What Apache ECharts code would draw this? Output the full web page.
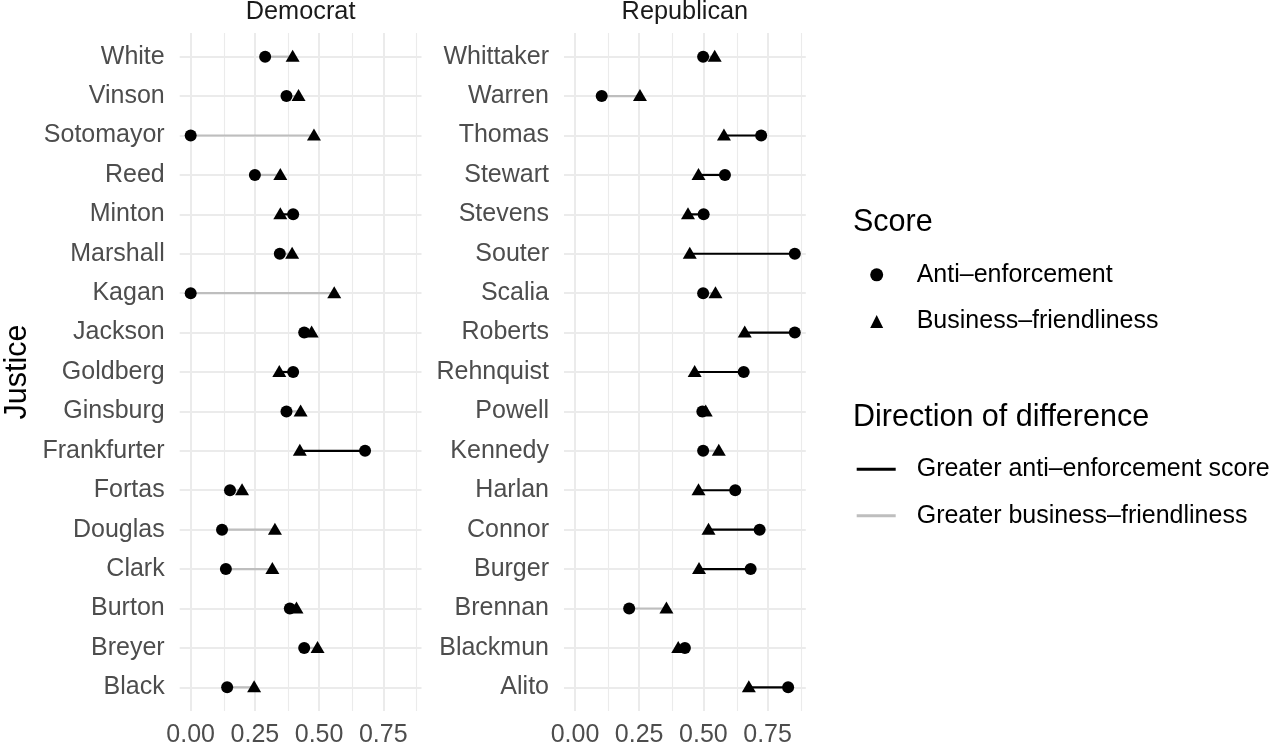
<!DOCTYPE html>
<html>
<head>
<meta charset="utf-8">
<script src="https://cdn.jsdelivr.net/npm/echarts@6/dist/echarts.min.js"></script>
<style>
html,body{margin:0;padding:0;background:#fff;}
#chart{width:1273px;height:751px;}
</style>
</head>
<body>
<div id="chart"></div>
<script>
// ---- data (rows listed top to bottom) ----
const demNames = ['White','Vinson','Sotomayor','Reed','Minton','Marshall','Kagan','Jackson','Goldberg','Ginsburg','Frankfurter','Fortas','Douglas','Clark','Burton','Breyer','Black'];
const demAnti  = [0.290,0.373,0.000,0.250,0.399,0.347,0.000,0.442,0.399,0.373,0.679,0.153,0.122,0.137,0.386,0.442,0.142];
const demBiz   = [0.397,0.420,0.480,0.349,0.349,0.395,0.559,0.471,0.345,0.428,0.425,0.200,0.328,0.318,0.412,0.494,0.247];

const repNames = ['Whittaker','Warren','Thomas','Stewart','Stevens','Souter','Scalia','Roberts','Rehnquist','Powell','Kennedy','Harlan','Connor','Burger','Brennan','Blackmun','Alito'];
const repAnti  = [0.499,0.104,0.725,0.584,0.501,0.856,0.499,0.856,0.657,0.496,0.499,0.624,0.719,0.684,0.211,0.428,0.830];
const repBiz   = [0.544,0.253,0.580,0.481,0.440,0.447,0.547,0.661,0.466,0.509,0.560,0.481,0.520,0.483,0.356,0.402,0.677];

const panelNames = ['Democrat','Republican'];
const xMajor = [0, 0.25, 0.5, 0.75];
const xMinor = [0.125, 0.375, 0.625, 0.875];
const scoreNames = ['Anti–enforcement','Business–friendliness'];
const diffNames = ['Greater anti–enforcement score','Greater business–friendliness'];

// ---- styling constants ----
const FONT = '"Liberation Sans", Arial, Helvetica, sans-serif';
const SMALL = 25, BIG = 30.5, STRIP = 25.3;
const GRID_C = '#EBEBEB';
const XMIN = -0.0428, XMAX = 0.8988;
const YMIN = -0.6, YMAX = 16.6;

const panels = [
  {names: demNames, anti: demAnti, biz: demBiz, left: 179.7},
  {names: repNames, anti: repAnti, biz: repBiz, left: 564}
];
const GRID_TOP = 33.05, GRID_H = 677.9, GRID_W = 241.8;

const grids = [], xAxes = [], yAxes = [], series = [];
panels.forEach((p, k) => {
  const n = p.names.length;
  const yIdx = p.names.map((_, i) => n - 1 - i);
  grids.push({left: p.left, top: GRID_TOP, width: GRID_W, height: GRID_H, containLabel: false});
  xAxes.push({
    type: 'value', gridIndex: k, min: XMIN, max: XMAX,
    axisLine: {show: false}, axisTick: {show: false, customValues: xMajor},
    splitLine: {show: false},
    axisLabel: {customValues: xMajor, formatter: v => v.toFixed(2), color: '#4D4D4D',
                fontFamily: FONT, fontSize: SMALL, margin: 12}
  });
  yAxes.push({
    type: 'value', gridIndex: k, min: YMIN, max: YMAX,
    axisLine: {show: false}, axisTick: {show: false, customValues: yIdx},
    splitLine: {show: false},
    axisLabel: {customValues: yIdx, formatter: v => p.names[n - 1 - Math.round(v)] || '',
                color: '#4D4D4D', fontFamily: FONT, fontSize: SMALL, margin: 15, padding: [3, 0, 0, 0]},
    name: k === 0 ? 'Justice' : '', nameLocation: 'middle', nameRotate: 90, nameGap: 147,
    nameTextStyle: {color: '#000', fontFamily: FONT, fontSize: BIG}
  });
  // gridlines
  const ml = [];
  xMajor.forEach(v => ml.push({xAxis: v, lineStyle: {color: GRID_C, width: 2, type: 'solid'}}));
  xMinor.forEach(v => ml.push({xAxis: v, lineStyle: {color: GRID_C, width: 1.1, type: 'solid'}}));
  yIdx.forEach(v => ml.push({yAxis: v, lineStyle: {color: GRID_C, width: 2, type: 'solid'}}));
  series.push({
    type: 'line', xAxisIndex: k, yAxisIndex: k, data: [], silent: true,
    markLine: {silent: true, symbol: ['none', 'none'], label: {show: false}, z: 0,
               animation: false, emphasis: {disabled: true}, data: ml}
  });
  // segments
  const antiGreater = [], bizGreater = [];
  p.names.forEach((_, i) => {
    const rec = [p.anti[i], p.biz[i], yIdx[i]];
    if (p.anti[i] > p.biz[i]) antiGreater.push(rec); else bizGreater.push(rec);
  });
  const seg = (name, data, color) => ({
    type: 'custom', name, xAxisIndex: k, yAxisIndex: k, data, z: 2, silent: true,
    itemStyle: {color}, encode: {x: [0, 1], y: 2},
    renderItem: (params, api) => {
      const a = api.coord([api.value(0), api.value(2)]);
      const b = api.coord([api.value(1), api.value(2)]);
      return {type: 'line', shape: {x1: a[0], y1: a[1], x2: b[0], y2: b[1]},
              style: {stroke: color, lineWidth: 2.2}};
    }
  });
  series.push(seg(diffNames[0], antiGreater, '#000000'));
  series.push(seg(diffNames[1], bizGreater, '#BEBEBE'));
  // points
  series.push({
    type: 'scatter', name: scoreNames[0], xAxisIndex: k, yAxisIndex: k, z: 4, silent: true,
    symbol: 'circle', symbolSize: 12, itemStyle: {color: '#000', opacity: 1},
    data: p.anti.map((v, i) => [v, yIdx[i]])
  });
  series.push({
    type: 'scatter', name: scoreNames[1], xAxisIndex: k, yAxisIndex: k, z: 4, silent: true,
    symbol: 'triangle', symbolSize: [14, 12], symbolOffset: [0, -1], itemStyle: {color: '#000', opacity: 1},
    data: p.biz.map((v, i) => [v, yIdx[i]])
  });
});

const option = {
  animation: false,
  backgroundColor: '#fff',
  grid: grids, xAxis: xAxes, yAxis: yAxes, series,
  legend: [
    {
      data: [{name: scoreNames[0], icon: 'circle'}, {name: scoreNames[1], icon: 'triangle'}],
      orient: 'vertical', left: 870.2, top: 262.3, padding: 0,
      itemWidth: 13, itemHeight: 13, itemGap: 21.7, selectedMode: false,
      textStyle: {color: '#000', fontFamily: FONT, fontSize: SMALL, lineHeight: 25, padding: [0, 0, 0, 28.5]}
    },
    {
      data: [{name: diffNames[0], icon: 'rect', itemStyle: {color: '#000'}},
             {name: diffNames[1], icon: 'rect', itemStyle: {color: '#BEBEBE'}}],
      orient: 'vertical', left: 856.7, top: 456.7, padding: 0,
      itemWidth: 39, itemHeight: 3, itemGap: 21.6, selectedMode: false,
      textStyle: {color: '#000', fontFamily: FONT, fontSize: SMALL, lineHeight: 25, padding: [0, 0, 0, 16]}
    }
  ],
  graphic: [
    {type: 'text', x: 179.7 + GRID_W / 2, y: 12, silent: true,
     style: {text: panelNames[0], fill: '#1A1A1A', font: STRIP + 'px ' + FONT, align: 'center', verticalAlign: 'middle'}},
    {type: 'text', x: 564 + GRID_W / 2, y: 12, silent: true,
     style: {text: panelNames[1], fill: '#1A1A1A', font: STRIP + 'px ' + FONT, align: 'center', verticalAlign: 'middle'}},
    {type: 'text', x: 853, y: 223, silent: true,
     style: {text: 'Score', fill: '#000', font: BIG + 'px ' + FONT, align: 'left', verticalAlign: 'middle'}},
    {type: 'text', x: 853, y: 418, silent: true,
     style: {text: 'Direction of difference', fill: '#000', font: BIG + 'px ' + FONT, align: 'left', verticalAlign: 'middle'}}
  ]
};

const chart = echarts.init(document.getElementById('chart'), null, {renderer: 'canvas'});
chart.setOption(option);
</script>
</body>
</html>
